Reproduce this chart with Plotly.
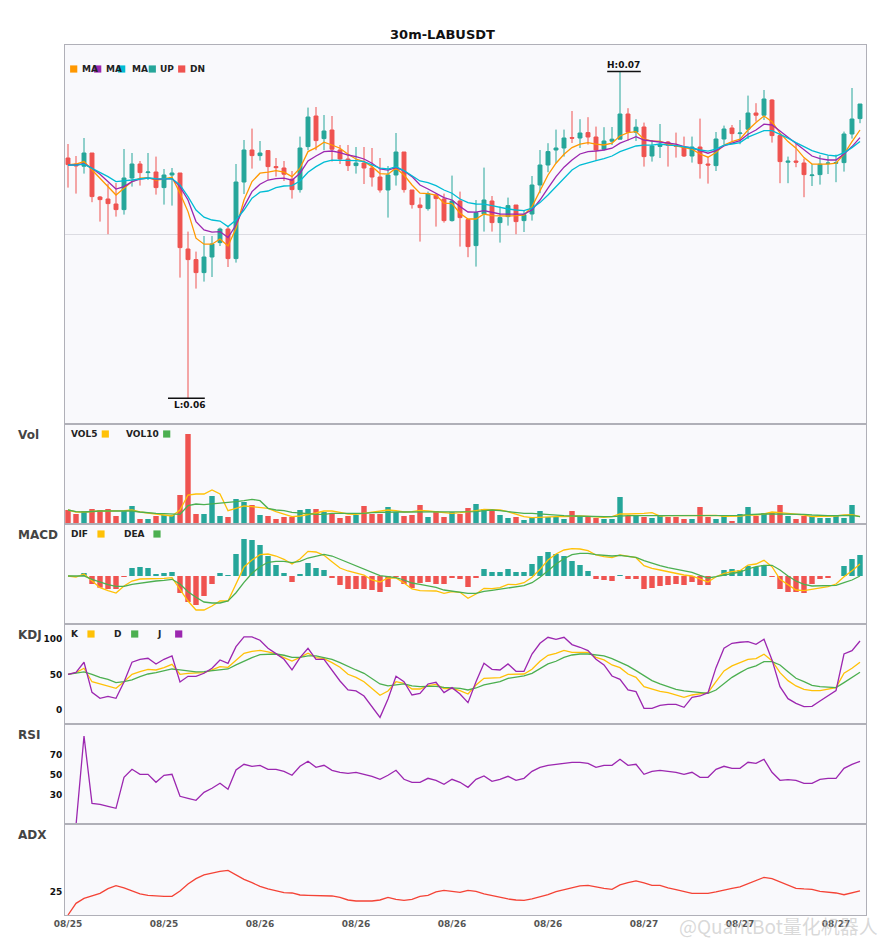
"""
30m-LABUSDT 多指標 K 線圖

主圖 K 線 + 三條均線，副圖依序為 Vol / MACD / KDJ / RSI / ADX。
"""

import plotly.graph_objects as go
from plotly.subplots import make_subplots

SYMBOL = "LABUSDT"
INTERVAL = "30m"

# ---------------- K 線數據（自圖上讀取） ----------------
opens = [
    0.06710, 0.06679, 0.06669, 0.06735, 0.06515, 0.06505, 0.06480, 0.06452, 0.06610, 0.06680,
    0.06637, 0.06640, 0.06562, 0.06625, 0.06635, 0.06255, 0.06202, 0.06137, 0.06215, 0.06287,
    0.06355, 0.06207, 0.06590, 0.06750, 0.06722, 0.06747, 0.06667, 0.06660, 0.06604, 0.06552,
    0.06767, 0.06920, 0.06807, 0.06850, 0.06750, 0.06705, 0.06672, 0.06685, 0.06660, 0.06615,
    0.06550, 0.06625, 0.06740, 0.06550, 0.06475, 0.06457, 0.06524, 0.06505, 0.06397, 0.06495,
    0.06402, 0.06272, 0.06430, 0.06495, 0.06387, 0.06417, 0.06475, 0.06397, 0.06430, 0.06575,
    0.06675, 0.06750, 0.06760, 0.06812, 0.06810, 0.06837, 0.06815, 0.06754, 0.06794, 0.06804,
    0.06930, 0.06839, 0.06865, 0.06720, 0.06768, 0.06790, 0.06774, 0.06765, 0.06720, 0.06765,
    0.06680, 0.06672, 0.06805, 0.06860, 0.06832, 0.06854, 0.06935, 0.06924, 0.07000, 0.06822,
    0.06689, 0.06695, 0.06685, 0.06622, 0.06627, 0.06682, 0.06684, 0.06687, 0.06830, 0.06907,
]
highs = [
    0.06780, 0.06720, 0.06810, 0.06735, 0.06520, 0.06582, 0.06585, 0.06755, 0.06735, 0.06695,
    0.06735, 0.06717, 0.06655, 0.06660, 0.06635, 0.06342, 0.06242, 0.06320, 0.06320, 0.06362,
    0.06367, 0.06680, 0.06800, 0.06857, 0.06795, 0.06750, 0.06710, 0.06695, 0.06645, 0.06817,
    0.06962, 0.06965, 0.06925, 0.06920, 0.06775, 0.06775, 0.06765, 0.06765, 0.06760, 0.06710,
    0.06670, 0.06835, 0.06740, 0.06550, 0.06512, 0.06542, 0.06532, 0.06532, 0.06622, 0.06542,
    0.06402, 0.06500, 0.06662, 0.06520, 0.06467, 0.06512, 0.06475, 0.06450, 0.06620, 0.06750,
    0.06784, 0.06852, 0.06852, 0.06945, 0.06904, 0.06914, 0.06867, 0.06864, 0.06865, 0.07142,
    0.06959, 0.06904, 0.06887, 0.06800, 0.06880, 0.06795, 0.06837, 0.06817, 0.06817, 0.06907,
    0.06717, 0.06840, 0.06872, 0.06875, 0.06900, 0.07022, 0.06984, 0.07050, 0.07004, 0.06834,
    0.06717, 0.06780, 0.06707, 0.06679, 0.06724, 0.06722, 0.06727, 0.06842, 0.07060, 0.06980,
]
lows = [
    0.06562, 0.06532, 0.06632, 0.06489, 0.06392, 0.06329, 0.06417, 0.06427, 0.06567, 0.06572,
    0.06600, 0.06527, 0.06477, 0.06472, 0.06112, 0.05509, 0.06057, 0.06092, 0.06115, 0.06270,
    0.06165, 0.06187, 0.06530, 0.06657, 0.06697, 0.06602, 0.06617, 0.06595, 0.06507, 0.06537,
    0.06749, 0.06749, 0.06749, 0.06692, 0.06680, 0.06645, 0.06632, 0.06580, 0.06567, 0.06537,
    0.06412, 0.06572, 0.06537, 0.06457, 0.06292, 0.06447, 0.06367, 0.06387, 0.06392, 0.06267,
    0.06214, 0.06167, 0.06342, 0.06342, 0.06287, 0.06372, 0.06329, 0.06340, 0.06397, 0.06534,
    0.06639, 0.06684, 0.06717, 0.06785, 0.06760, 0.06777, 0.06697, 0.06747, 0.06775, 0.06804,
    0.06797, 0.06795, 0.06667, 0.06692, 0.06710, 0.06667, 0.06712, 0.06715, 0.06687, 0.06607,
    0.06582, 0.06645, 0.06779, 0.06795, 0.06779, 0.06805, 0.06892, 0.06900, 0.06787, 0.06584,
    0.06584, 0.06664, 0.06514, 0.06570, 0.06577, 0.06630, 0.06589, 0.06642, 0.06807, 0.06884,
]
closes = [
    0.06677, 0.06670, 0.06735, 0.06517, 0.06502, 0.06482, 0.06452, 0.06610, 0.06680, 0.06637,
    0.06640, 0.06562, 0.06625, 0.06635, 0.06262, 0.06202, 0.06137, 0.06215, 0.06280, 0.06355,
    0.06207, 0.06590, 0.06750, 0.06722, 0.06735, 0.06667, 0.06662, 0.06629, 0.06552, 0.06760,
    0.06915, 0.06797, 0.06845, 0.06754, 0.06705, 0.06672, 0.06685, 0.06660, 0.06615, 0.06550,
    0.06625, 0.06740, 0.06552, 0.06477, 0.06462, 0.06532, 0.06507, 0.06397, 0.06495, 0.06412,
    0.06267, 0.06437, 0.06500, 0.06387, 0.06412, 0.06472, 0.06392, 0.06427, 0.06575, 0.06675,
    0.06742, 0.06760, 0.06810, 0.06809, 0.06835, 0.06815, 0.06750, 0.06795, 0.06804, 0.06930,
    0.06839, 0.06864, 0.06717, 0.06770, 0.06779, 0.06774, 0.06769, 0.06720, 0.06765, 0.06682,
    0.06675, 0.06805, 0.06855, 0.06832, 0.06835, 0.06935, 0.06924, 0.07005, 0.06822, 0.06692,
    0.06694, 0.06689, 0.06627, 0.06625, 0.06679, 0.06685, 0.06687, 0.06830, 0.06905, 0.06980,
]

# 均線（橘 / 紫 / 青）
ma_fast = [
    0.06675, 0.06680, 0.06692, 0.06650, 0.06609, 0.06567, 0.06525, 0.06559, 0.06592, 0.06609,
    0.06612, 0.06600, 0.06605, 0.06614, 0.06534, 0.06442, 0.06309, 0.06279, 0.06279, 0.06305,
    0.06270, 0.06359, 0.06500, 0.06592, 0.06634, 0.06639, 0.06647, 0.06639, 0.06617, 0.06659,
    0.06742, 0.06762, 0.06789, 0.06775, 0.06759, 0.06729, 0.06705, 0.06692, 0.06667, 0.06632,
    0.06629, 0.06659, 0.06625, 0.06575, 0.06534, 0.06532, 0.06525, 0.06484, 0.06482, 0.06434,
    0.06405, 0.06405, 0.06430, 0.06422, 0.06420, 0.06420, 0.06422, 0.06425, 0.06467, 0.06550,
    0.06625, 0.06684, 0.06729, 0.06762, 0.06779, 0.06787, 0.06779, 0.06775, 0.06784, 0.06820,
    0.06837, 0.06842, 0.06804, 0.06794, 0.06794, 0.06780, 0.06770, 0.06762, 0.06754, 0.06730,
    0.06714, 0.06737, 0.06775, 0.06792, 0.06804, 0.06850, 0.06887, 0.06920, 0.06892, 0.06834,
    0.06792, 0.06759, 0.06712, 0.06680, 0.06679, 0.06679, 0.06684, 0.06730, 0.06792, 0.06850,
]
ma_mid = [
    0.06675, 0.06675, 0.06682, 0.06659, 0.06629, 0.06592, 0.06555, 0.06567, 0.06592, 0.06604,
    0.06609, 0.06605, 0.06604, 0.06607, 0.06567, 0.06500, 0.06392, 0.06350, 0.06339, 0.06342,
    0.06312, 0.06375, 0.06467, 0.06542, 0.06579, 0.06600, 0.06607, 0.06609, 0.06599, 0.06634,
    0.06695, 0.06720, 0.06742, 0.06745, 0.06737, 0.06725, 0.06717, 0.06705, 0.06684, 0.06655,
    0.06649, 0.06662, 0.06645, 0.06617, 0.06575, 0.06555, 0.06534, 0.06512, 0.06500, 0.06467,
    0.06440, 0.06439, 0.06447, 0.06437, 0.06430, 0.06429, 0.06429, 0.06429, 0.06450, 0.06500,
    0.06559, 0.06617, 0.06664, 0.06700, 0.06730, 0.06742, 0.06745, 0.06750, 0.06759, 0.06784,
    0.06800, 0.06817, 0.06800, 0.06795, 0.06792, 0.06784, 0.06779, 0.06767, 0.06760, 0.06747,
    0.06734, 0.06747, 0.06770, 0.06784, 0.06797, 0.06829, 0.06850, 0.06879, 0.06875, 0.06845,
    0.06814, 0.06784, 0.06750, 0.06720, 0.06707, 0.06700, 0.06700, 0.06730, 0.06767, 0.06812,
]
ma_slow = [
    0.06675, 0.06674, 0.06679, 0.06659, 0.06639, 0.06617, 0.06592, 0.06595, 0.06600, 0.06605,
    0.06610, 0.06607, 0.06605, 0.06607, 0.06575, 0.06517, 0.06450, 0.06414, 0.06400, 0.06395,
    0.06367, 0.06400, 0.06450, 0.06509, 0.06539, 0.06545, 0.06562, 0.06570, 0.06572, 0.06595,
    0.06639, 0.06667, 0.06689, 0.06699, 0.06699, 0.06697, 0.06697, 0.06692, 0.06675, 0.06659,
    0.06655, 0.06667, 0.06647, 0.06622, 0.06595, 0.06587, 0.06572, 0.06550, 0.06534, 0.06505,
    0.06487, 0.06480, 0.06479, 0.06472, 0.06462, 0.06455, 0.06450, 0.06447, 0.06459, 0.06487,
    0.06525, 0.06567, 0.06609, 0.06650, 0.06675, 0.06687, 0.06697, 0.06707, 0.06720, 0.06742,
    0.06757, 0.06770, 0.06774, 0.06774, 0.06780, 0.06774, 0.06772, 0.06767, 0.06760, 0.06750,
    0.06744, 0.06754, 0.06774, 0.06780, 0.06787, 0.06814, 0.06829, 0.06847, 0.06847, 0.06830,
    0.06809, 0.06787, 0.06767, 0.06747, 0.06734, 0.06724, 0.06720, 0.06737, 0.06762, 0.06792,
]

# 成交量（萬）與均量
volumes = [
    14, 10, 13, 15, 14, 15, 8, 13, 18, 5,
    5, 8, 9, 9, 29, 90, 10, 10, 28, 8,
    7, 25, 22, 19, 9, 8, 5, 7, 7, 14,
    15, 15, 12, 10, 6, 8, 9, 18, 10, 10,
    17, 12, 8, 9, 19, 7, 13, 7, 12, 10,
    16, 20, 15, 13, 9, 6, 7, 4, 6, 13,
    7, 7, 5, 13, 8, 7, 6, 5, 5, 27,
    8, 8, 7, 6, 8, 7, 7, 5, 5, 17,
    7, 5, 8, 3, 10, 17, 8, 11, 12, 19,
    8, 5, 8, 8, 6, 6, 8, 6, 19, 0.5,
]
vol5 = [
    14, 12, 12, 12.7, 13, 13, 13, 13.3, 14, 12,
    11, 9.7, 9, 8, 14, 29, 30, 30, 34, 30,
    13.3, 15.7, 18, 17.3, 16.7, 15.7, 12.3, 10, 7.3, 8,
    9.3, 11, 13, 13, 11.7, 10, 9.7, 10.7, 11.7, 12.3,
    14, 13.3, 12, 12.3, 13.7, 13, 12.3, 11, 10.7, 11.3,
    12, 13.3, 14.7, 14.7, 14, 12.3, 10, 7.3, 6.3, 6.7,
    7.3, 7.3, 7.3, 8, 8, 7.7, 7.3, 6.7, 7.3, 10,
    10, 10, 10.7, 11.3, 8, 8.3, 8.3, 8.3, 8.3, 8.3,
    8.3, 8.7, 7.7, 7.7, 8, 9, 9, 10, 12, 11.3,
    10.7, 10, 9, 7.3, 7.3, 7.3, 8, 9, 9.3, 7.3,
]
vol10 = [
    14, 12.3, 12, 12.7, 13, 13, 13, 13, 13, 12,
    11, 10.7, 10.3, 9.7, 9.7, 18.3, 20, 19.3, 20, 20.7,
    21, 22.3, 23.3, 24.7, 23.3, 15.7, 14, 13.3, 11.7, 10.7,
    10.3, 9.7, 9.7, 10.7, 10.7, 10.7, 10.3, 10.7, 11.3, 11.7,
    12, 12, 12, 12, 12.3, 12.3, 12.3, 12, 11.7, 11.7,
    11.7, 12.3, 13.3, 14, 13.3, 12.3, 11.3, 10.7, 10.7, 10,
    9.3, 8.7, 8.3, 8, 7.7, 7.3, 7.3, 7.3, 7.3, 8,
    8.3, 8.3, 8.3, 8.3, 8.3, 8.7, 8.7, 8.7, 8.7, 8.7,
    8.7, 8.7, 8.3, 8, 8.7, 9.3, 10, 10, 10, 10,
    10, 10, 9.7, 9, 8.3, 8.3, 8.3, 8.7, 8.7, 7.3,
]

# MACD（單位 1e-5）
macd_dif = [
    0, -1, 2, -4.7, -11.7, -14.7, -17, -10, -5, -3,
    -3, -2.7, -2.3, -1.7, -14, -25, -34, -34, -30, -25,
    -25, -8, 9, 16, 21.3, 22, 20, 16.7, 12, 17,
    24.7, 24, 20.7, 14.3, 8, 5, 3, 1, -4, -6,
    -2, -2, -7, -13, -14.7, -14.7, -15, -17.3, -15.7, -16.3,
    -22.3, -18, -12.3, -12.7, -11.7, -8.3, -8.7, -6.7, -1.3, 6.7,
    16, 22, 26, 27.3, 27, 25.3, 21, 19.3, 18.3, 21,
    19.3, 18.3, 10.3, 7.7, 6, 4.3, 2.7, 1, 0, -3.3,
    -6, -0.7, 2.7, 4.3, 5.3, 11, 12, 15.7, 9.3, -3.3,
    -9, -14, -14.7, -13.3, -12, -10.7, -8, -0.7, 5.3, 12,
]
macd_dea = [
    0, 0, 0, -3.3, -6.3, -8.7, -10.3, -10.3, -8.3, -7,
    -5.7, -5, -4.3, -3.3, -8, -15.7, -21.3, -26, -27, -27,
    -25, -16.7, -6.3, 2.7, 9.3, 13.7, 14.7, 14.7, 13.3, 14.7,
    18, 20, 21.7, 20, 16.7, 13.3, 10.3, 7.3, 4, 0.3,
    -0.7, -1.7, -4, -7, -8.3, -10, -11.3, -14, -15.3, -16,
    -17.3, -17.3, -15.3, -14.3, -13.3, -11.7, -10.7, -9.7, -6.7, -1.3,
    5.3, 12, 17.3, 21.3, 22.7, 22.7, 21.3, 20.7, 20, 20.7,
    20, 18.7, 15.3, 12.7, 10.3, 8.3, 6.7, 5, 3.7, 0.7,
    -2, -0.7, 1, 2.7, 4, 7, 9.3, 10.7, 10.7, 6,
    0, -5, -8.3, -10, -10, -10, -9.3, -6.7, -4, 0,
]
macd_hist = [
    0, 0, 3, -8, -11.7, -13, -13, -1, 8, 9,
    8, 2, 3, 4, -17, -26, -29, -20, -8, 3,
    1, 22, 37, 36, 31, 20, 11, 3, -6, 2,
    13, 8, 6, -2, -9, -13, -13, -13, -14, -16,
    -11, -1, -8, -12, -7, -6, -8, -8, -2, -3,
    -11, -2, 7, 4, 4, 7, 4, 4, 12, 20,
    24, 22, 20, 15, 11, 5, -3, -4, -5, 1,
    -3, -3, -13, -12, -10, -9, -8, -9, -6, -9,
    -9, 0, 6, 7, 6, 10, 9, 11, -1, -13,
    -16, -16, -17, -8, -3, -2, 0, 10, 17, 21,
]

# KDJ
kdj_k = [
    50.5, 52.8, 59, 40, 36.8, 34, 30.7, 40, 50.5, 54.2,
    57.5, 56.6, 59.9, 64.6, 50.5, 51.9, 51.9, 52.8, 56.6, 61.3,
    60.4, 70.8, 80.2, 83, 84.4, 82.1, 79.2, 74.1, 69.3, 74.5,
    80.2, 74.1, 72.6, 67, 60.4, 50.5, 46.2, 40, 30.7, 20.8,
    26.9, 40, 37.7, 29.7, 29.7, 34.4, 36.3, 30.2, 30.7, 27.4,
    22.6, 35.4, 44.8, 44.8, 45.8, 50.5, 50.5, 50.9, 57.5, 68.9,
    77.4, 80.2, 84.4, 81.6, 81.6, 81.6, 74.5, 70.8, 63.7, 59.9,
    50.9, 46.2, 33, 29.2, 26.4, 24.5, 21.7, 17.9, 21.2, 22.6,
    24.5, 40, 55.2, 62.3, 67.5, 71.7, 72.6, 78.8, 69.8, 52.8,
    41.5, 34, 29.2, 27.4, 27.4, 29.2, 31.6, 51.9, 59, 67.5,
]
kdj_d = [
    50.5, 51.9, 53.8, 50.5, 46.2, 43.4, 38.7, 40, 42.5, 47.2,
    50.9, 52.8, 55.2, 58, 56.6, 55.2, 53.8, 54.2, 55.2, 56.6,
    58, 63.7, 69.3, 74.1, 78.3, 79.2, 79.2, 77.4, 74.5, 74.5,
    76.4, 76.4, 74.5, 71.7, 67, 61.3, 56.6, 51.9, 44.8, 36.8,
    34, 35.4, 36.8, 34, 33, 33.5, 33.5, 32, 31.6, 30.7,
    28.3, 31.1, 35.4, 37.7, 40, 44.8, 46.2, 48.1, 51.9, 59,
    65.1, 68.9, 74.5, 77.8, 79.2, 79.2, 78.3, 76.4, 72.6, 67.9,
    62.3, 55.7, 48.1, 41.5, 36.8, 33, 29.2, 26.9, 25.9, 25,
    23.6, 28.3, 36.8, 46.2, 52.8, 59, 62.3, 68.4, 68.4, 63.7,
    54.2, 44.8, 40, 34.9, 33, 32.1, 31.6, 38.7, 45.8, 53.3,
]
kdj_j = [
    50.5, 53.3, 67.5, 25, 16.5, 19.3, 16.5, 39.6, 67.5, 71.7,
    73.1, 65.1, 71.7, 76.4, 39.6, 47.6, 47.6, 51.9, 59, 70.8,
    66, 89.6, 103.3, 103.3, 98.6, 87.3, 79.7, 71.7, 56.6, 74.1,
    87.3, 71.7, 71.7, 56.6, 41, 28.3, 26.9, 19.8, 4.7, -10.4,
    15.6, 47.6, 40, 21.2, 23.6, 36.8, 39.2, 24.5, 31.6, 22.6,
    10.4, 40, 66, 57.5, 56.6, 65.1, 54.7, 54.7, 79.2, 94.3,
    102.8, 100, 102.8, 92.5, 88.7, 84, 71.7, 63.7, 48.1, 43.4,
    28.3, 25.9, 2.4, 2.4, 6.6, 8, 8, 3.8, 17.9, 19.8,
    24.5, 59.9, 87.3, 94.3, 95.8, 96.7, 92.9, 100, 70.8, 33,
    16, 9.4, 4.7, 5.2, 12.7, 19.8, 27.4, 79.2, 84, 97.6,
]

# RSI（第一根無值）
rsi = [
    None, 0, 89.3, 22, 21, 19, 17, 48, 56, 51,
    51, 43, 50, 51, 29, 27, 25, 33, 37, 42,
    36, 55.3, 61, 59, 60, 56, 56, 54, 50, 59,
    64, 58, 60, 55, 53, 52, 53, 51, 49, 46,
    50, 55, 46, 43, 43, 47, 45, 41, 46, 43,
    38, 46, 49.3, 44, 46, 49, 45, 47, 54, 58,
    60, 61, 62, 63, 63, 62, 58, 60, 60, 66,
    60, 61, 51, 54, 55, 54, 53, 51, 53, 48,
    48, 56, 59, 57, 57, 63, 62, 66, 53, 45,
    45.6, 45, 42, 42, 46, 47, 47, 57, 61, 64,
]

# ADX
adx = [
    0, 12.8, 18.3, 20.9, 23.8, 28.9, 32.2, 29.7, 26.7, 23.1,
    21.6, 20.9, 20.5, 20.5, 26.4, 34.1, 39.9, 44, 46.2, 48,
    49.1, 44, 39.2, 35.5, 31.5, 28.6, 26.7, 24.5, 24.2, 22,
    21.6, 21.6, 21.6, 20.9, 19.4, 16.5, 15.4, 15.4, 15.4, 16.5,
    19.4, 17.2, 16.1, 17.2, 20.5, 21.6, 25.3, 27.1, 26, 24.9,
    27.1, 26, 23.1, 21.2, 19.4, 17.6, 16.5, 16.1, 17.6, 19.8,
    22.3, 25.6, 27.8, 30, 31.9, 32.6, 30.8, 29.3, 28.2, 33,
    35.5, 37.4, 35.2, 32.6, 32.6, 29.7, 27.8, 26, 23.8, 23.8,
    23.8, 25.3, 27.5, 29.3, 30.8, 34.1, 37.7, 41.4, 39.9, 36.3,
    32.6, 29.3, 28.6, 28.2, 26, 25.3, 24.2, 22.3, 24.2, 26.4,
]

# X 軸刻度
tick_pos = [0, 12, 24, 36, 48, 60, 72, 84, 96]
tick_labels = ["08/25", "08/25", "08/26", "08/26", "08/26", "08/26", "08/27", "08/27", "08/27"]

# ---------------- 樣式 ----------------
FONT = "DejaVu Sans"
UP = "#26a69a"
DN = "#ef5350"
MA_COLORS = ["#ff9800", "#9c27b0", "#00bcd4"]
YELLOW = "#ffc107"
GREEN = "#4caf50"
PURPLE = "#9c27b0"
ADX_RED = "#f44336"
BG = "#f9f9fc"
AXIS_LINE = "#b0b0b8"

W, H = 885, 950
PLOT_L, PLOT_R, PLOT_T, PLOT_B = 65, 866, 45, 915
ROW_PX = [379, 100, 100, 100, 100, 91]


def px_x(px):
    """像素 x 轉 paper 座標"""
    return (px - PLOT_L) / (PLOT_R - PLOT_L)


def px_y(py):
    """像素 y 轉 paper 座標"""
    return (PLOT_B - py) / (PLOT_B - PLOT_T)


def add_label(fig, px, py, text, size=9, color="#222222"):
    fig.add_annotation(
        xref="paper", yref="paper", x=px_x(px), y=px_y(py),
        text=f"<b>{text}</b>", showarrow=False,
        xanchor="left", yanchor="middle",
        font=dict(family=FONT, size=size, color=color),
    )


def add_swatch(fig, px, py, color):
    fig.add_shape(
        type="rect", xref="paper", yref="paper",
        xsizemode="pixel", ysizemode="pixel",
        xanchor=px_x(px), yanchor=px_y(py),
        x0=-3.6, x1=3.6, y0=-3.6, y1=3.6,
        fillcolor=color, line=dict(width=0),
    )


def line_trace(x, y, color, width=1.3):
    return go.Scatter(x=x, y=y, mode="lines", line=dict(color=color, width=width),
                      showlegend=False, hoverinfo="skip", connectgaps=False)


n = len(closes)
assert all(len(s) == n for s in [opens, highs, lows, ma_fast, ma_mid, ma_slow, volumes, vol5,
                                  vol10, macd_dif, macd_dea, macd_hist, kdj_k, kdj_d, kdj_j,
                                  rsi, adx])
idx = list(range(n))

fig = make_subplots(rows=6, cols=1, shared_xaxes=True, vertical_spacing=0,
                    row_heights=ROW_PX)

# 1. 主圖：K 線 + 均線
fig.add_trace(go.Candlestick(
    x=idx, open=opens, high=highs, low=lows, close=closes,
    increasing=dict(line=dict(color=UP, width=1), fillcolor=UP),
    decreasing=dict(line=dict(color=DN, width=1), fillcolor=DN),
    whiskerwidth=0, showlegend=False, hoverinfo="skip",
), row=1, col=1)
for series, color in zip([ma_fast, ma_mid, ma_slow], MA_COLORS):
    fig.add_trace(line_trace(idx, series, color), row=1, col=1)

# 最高 / 最低標記
hi_i = max(idx, key=lambda i: highs[i])
lo_i = min(idx, key=lambda i: lows[i])
fig.add_shape(type="line", x0=hi_i - 1.6, x1=hi_i + 2.6, y0=highs[hi_i], y1=highs[hi_i],
              line=dict(color="#111111", width=1.5), row=1, col=1)
fig.add_annotation(x=hi_i + 0.45, y=highs[hi_i], text=f"<b>H:{highs[hi_i]:.2f}</b>",
                   showarrow=False, yanchor="bottom", xanchor="center",
                   font=dict(family=FONT, size=9, color="#111111"), row=1, col=1)
fig.add_shape(type="line", x0=lo_i - 2.5, x1=lo_i + 2.1, y0=lows[lo_i], y1=lows[lo_i],
              line=dict(color="#111111", width=1.5), row=1, col=1)
fig.add_annotation(x=lo_i + 0.3, y=lows[lo_i], text=f"<b>L:{lows[lo_i]:.2f}</b>",
                   showarrow=False, yanchor="top", xanchor="center",
                   font=dict(family=FONT, size=9, color="#111111"), row=1, col=1)

# 2. 成交量
vol_colors = [UP if c >= o else DN for o, c in zip(opens, closes)]
fig.add_trace(go.Bar(x=idx, y=volumes, marker=dict(color=vol_colors, line=dict(width=0)),
                     width=0.68, showlegend=False, hoverinfo="skip"), row=2, col=1)
fig.add_trace(line_trace(idx, vol5, YELLOW), row=2, col=1)
fig.add_trace(line_trace(idx, vol10, GREEN), row=2, col=1)

# 3. MACD
hist_colors = [UP if v >= 0 else DN for v in macd_hist]
fig.add_hline(y=0, line=dict(color="#d0d0d6", width=1), row=3, col=1)
fig.add_trace(go.Bar(x=idx, y=macd_hist, marker=dict(color=hist_colors, line=dict(width=0)),
                     width=0.68, showlegend=False, hoverinfo="skip"), row=3, col=1)
fig.add_trace(line_trace(idx, macd_dif, YELLOW), row=3, col=1)
fig.add_trace(line_trace(idx, macd_dea, GREEN), row=3, col=1)

# 4. KDJ
for yv, color in [(100, "#a3d8d1"), (50, "#cacaca"), (0, "#f5b3b3")]:
    fig.add_hline(y=yv, line=dict(color=color, width=1), row=4, col=1)
fig.add_trace(line_trace(idx, kdj_k, YELLOW), row=4, col=1)
fig.add_trace(line_trace(idx, kdj_d, GREEN), row=4, col=1)
fig.add_trace(line_trace(idx, kdj_j, PURPLE), row=4, col=1)

# 5. RSI
for yv, color in [(70, "#a3d8d1"), (50, "#cacaca"), (30, "#f5b3b3")]:
    fig.add_hline(y=yv, line=dict(color=color, width=1), row=5, col=1)
fig.add_trace(line_trace(idx, rsi, PURPLE), row=5, col=1)

# 6. ADX
fig.add_hline(y=25, line=dict(color="#dcaee2", width=1), row=6, col=1)
fig.add_trace(line_trace(idx, adx, ADX_RED), row=6, col=1)

# ---------------- 軸設定 ----------------
tick_font = dict(family=FONT, size=9, color="#111111")
fig.update_xaxes(range=[-0.375, 99.75], showgrid=False, zeroline=False,
                 showline=True, mirror=True, linecolor=AXIS_LINE, linewidth=1,
                 showticklabels=False, ticks="", rangeslider=dict(visible=False))
fig.update_xaxes(row=6, col=1, showticklabels=True, tickvals=tick_pos,
                 ticktext=[f"<b>{t}</b>" for t in tick_labels],
                 tickfont=dict(family=FONT, size=9, color="#555555"))
fig.update_yaxes(showgrid=False, zeroline=False, showline=True, mirror=True,
                 linecolor=AXIS_LINE, linewidth=1, ticks="", tickfont=tick_font,
                 fixedrange=True)

price_lo, price_hi = 0.0538, 0.07275
fig.update_yaxes(row=1, col=1, range=[price_lo, price_hi],
                 tickvals=[(price_lo + price_hi) / 2], showticklabels=False,
                 showgrid=True, gridcolor="#dcdce2", gridwidth=1)
fig.update_yaxes(row=2, col=1, range=[0, 100], showticklabels=False)
fig.update_yaxes(row=3, col=1, range=[-48, 52], showticklabels=False)
fig.update_yaxes(row=4, col=1, range=[-19.8, 121.6], tickvals=[0, 50, 100],
                 ticktext=["<b>0</b>", "<b>50</b>", "<b>100</b>"])
fig.update_yaxes(row=5, col=1, range=[1.3, 101.3], tickvals=[30, 50, 70],
                 ticktext=["<b>30</b>", "<b>50</b>", "<b>70</b>"])
fig.update_yaxes(row=6, col=1, range=[0, 100], tickvals=[25], ticktext=["<b>25</b>"])

# ---------------- 圖例與面板標題 ----------------
# 主圖圖例（方塊蓋住後面文字，與原圖一致）
add_swatch(fig, 73.7, 69, MA_COLORS[0])
add_label(fig, 79.5, 69, "MA")
add_swatch(fig, 97.7, 69, MA_COLORS[1])
add_label(fig, 103.5, 69, "MA")
add_swatch(fig, 121.7, 69, MA_COLORS[2])
add_label(fig, 129.5, 69, "MA")
add_swatch(fig, 152.3, 69, UP)
add_label(fig, 157.5, 69, "UP")
add_swatch(fig, 181.7, 69, DN)
add_label(fig, 187.5, 69, "DN")

# 副圖圖例
add_label(fig, 68.5, 434, "VOL5")
add_swatch(fig, 105.3, 434, YELLOW)
add_label(fig, 123.8, 434, "VOL10")
add_swatch(fig, 166.7, 434, GREEN)

add_label(fig, 68.8, 534, "DIF")
add_swatch(fig, 101, 534, YELLOW)
add_label(fig, 121.8, 534, "DEA")
add_swatch(fig, 157, 534, GREEN)

add_label(fig, 68.5, 634, "K")
add_swatch(fig, 91, 634, YELLOW)
add_label(fig, 111.8, 634, "D")
add_swatch(fig, 134.7, 634, GREEN)
add_label(fig, 155.2, 634, "J")
add_swatch(fig, 178.7, 634, PURPLE)

for name, py in [("Vol", 435), ("MACD", 535), ("KDJ", 635), ("RSI", 735), ("ADX", 835)]:
    add_label(fig, 15.5, py, name, size=12, color="#444444")

# 浮水印
fig.add_annotation(xref="paper", yref="paper", x=px_x(880), y=px_y(925),
                   text="@QuantBot量化机器人", showarrow=False,
                   xanchor="right", yanchor="middle",
                   font=dict(family="Noto Sans CJK SC", size=19,
                             color="rgba(185,185,185,0.55)"))

fig.update_layout(
    width=W, height=H,
    margin=dict(l=PLOT_L, r=W - PLOT_R, t=PLOT_T, b=H - PLOT_B),
    paper_bgcolor="white", plot_bgcolor=BG,
    title=dict(text=f"<b>{INTERVAL}-{SYMBOL}</b>", x=0.5, xref="container",
               y=1 - 34 / H, yref="container", xanchor="center", yanchor="middle",
               font=dict(family=FONT, size=13, color="#111111")),
    bargap=0.3, showlegend=False, hovermode=False,
    font=dict(family=FONT),
)

# 去掉頁面預設 8px 邊距，讓圖貼齊視窗左上角；不顯示工具列
fig.write_html("out.html", config={"displayModeBar": False},
               post_script="document.body.style.margin='0px';")
